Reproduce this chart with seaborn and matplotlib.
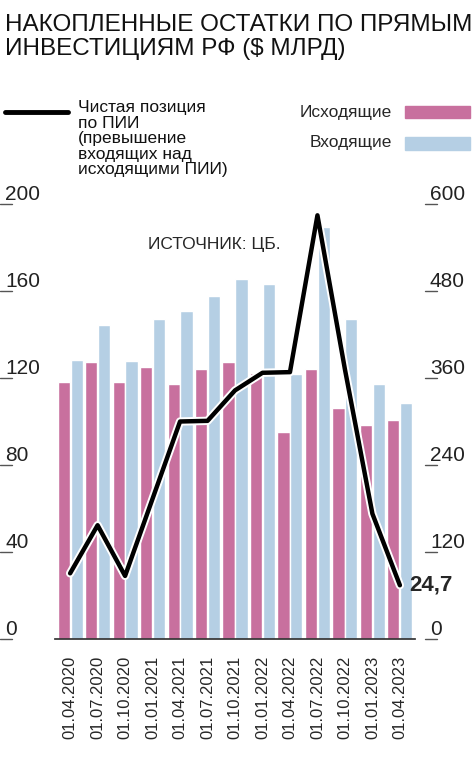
import matplotlib
matplotlib.use("Agg")
import matplotlib.pyplot as plt
import matplotlib.patheffects as pe
import matplotlib.transforms as mtrans
import seaborn as sns
import pandas as pd

dates = ["01.04.2020","01.07.2020","01.10.2020","01.01.2021","01.04.2021","01.07.2021",
         "01.10.2021","01.01.2022","01.04.2022","01.07.2022","01.10.2022","01.01.2023","01.04.2023"]
outgoing = [355, 382, 354, 375, 352, 373, 382, 367, 285, 373, 318, 295, 302]
incoming = [385, 433, 383, 442, 452, 473, 496, 490, 365, 568, 441, 352, 326]
net = [30.2, 52.3, 29.0, 64.5, 100.0, 100.3, 114.3, 122.4, 122.7, 194.8, 124.0, 57.6, 24.7]
right_ticks = [0, 120, 240, 360, 480, 600]
left_ticks = [0, 40, 80, 120, 160, 200]

sns.set_theme(style="white")
FF = ['Liberation Sans', 'DejaVu Sans']
plt.rcParams['font.family'] = FF

df = pd.DataFrame({"date": dates * 2,
                   "val": outgoing + incoming,
                   "kind": ["Исходящие"] * 13 + ["Входящие"] * 13})

fig = plt.figure(figsize=(4.74, 7.62), dpi=100)
ax = fig.add_axes([55/474, 123/762, 360/474, 435/762])
axl = ax.twinx()
sns.barplot(data=df, x="date", y="val", hue="kind", order=dates,
            palette={"Исходящие": "#C8709E", "Входящие": "#B5CFE4"},
            width=0.94, gap=0.06, ax=ax, legend=False, saturation=1)
ax.set_ylim(0, 600)
ax.set_xlim(-0.55, 12.55)
ax.set_yticks([])
ax.set_xlabel(""); ax.set_ylabel("")
ax.set_xticks(range(13))
ax.set_xticklabels(dates, rotation=90, fontsize=12)
ax.tick_params(axis="x", bottom=False, pad=6)
for s in ["top", "left", "right"]:
    ax.spines[s].set_visible(False)
ax.spines["bottom"].set_color("#333333")

axl.plot(range(13), net, color="black", lw=3.2,
         path_effects=[pe.Stroke(linewidth=6, foreground="white"), pe.Normal()])
axl.set_ylim(0, 200)
axl.set_yticks([])
for s in ["top", "left", "right", "bottom"]:
    axl.spines[s].set_visible(False)

# tick labels drawn as text above short tick lines
trl = mtrans.blended_transform_factory(fig.transFigure, axl.transData)
trr = mtrans.blended_transform_factory(fig.transFigure, ax.transData)
for v in left_ticks:
    fig.add_artist(plt.Line2D([0/474, 12/474], [v, v], transform=trl, color="#555555", lw=1))
    fig.text(5/474, v, str(v), transform=trl, fontsize=15, va="bottom", ha="left",
             color="#222222")
for v in right_ticks:
    fig.add_artist(plt.Line2D([425/474, 437/474], [v, v], transform=trr, color="#555555", lw=1))
    fig.text(430/474, v, str(v), transform=trr, fontsize=15, va="bottom", ha="left",
             color="#222222")

axl.text(12.35, net[-1], "24,7", fontsize=16, fontweight="bold", va="center", ha="left")

fig.text(5/474, 1 - 14/762, "НАКОПЛЕННЫЕ ОСТАТКИ ПО ПРЯМЫМ\nИНВЕСТИЦИЯМ РФ ($ МЛРД)",
         fontsize=17.5, va="top", ha="left", linespacing=1.1, color="#111111")
fig.add_artist(plt.Line2D([5/474, 68/474], [1-112/762, 1-112/762], color="black", lw=3.5))
fig.text(78/474, 1 - 100/762, "Чистая позиция\nпо ПИИ\n(превышение\nвходящих над\nисходящими ПИИ)",
         fontsize=12.5, va="top", ha="left", linespacing=1.05, color="#111111")
fig.text(392/474, 1 - 112/762, "Исходящие", fontsize=12.5, va="center", ha="right")
fig.text(392/474, 1 - 143/762, "Входящие", fontsize=12.5, va="center", ha="right")
fig.patches.append(plt.Rectangle((405/474, 1-118/762), 65/474, 12/762, color="#C8709E",
                                 transform=fig.transFigure, figure=fig))
fig.patches.append(plt.Rectangle((405/474, 1-150/762), 65/474, 13/762, color="#B5CFE4",
                                 transform=fig.transFigure, figure=fig))
fig.text(148/474, 1 - 245/762, "ИСТОЧНИК: ЦБ.", fontsize=12.5, va="center", ha="left")

fig.savefig("out.png", dpi=100)
